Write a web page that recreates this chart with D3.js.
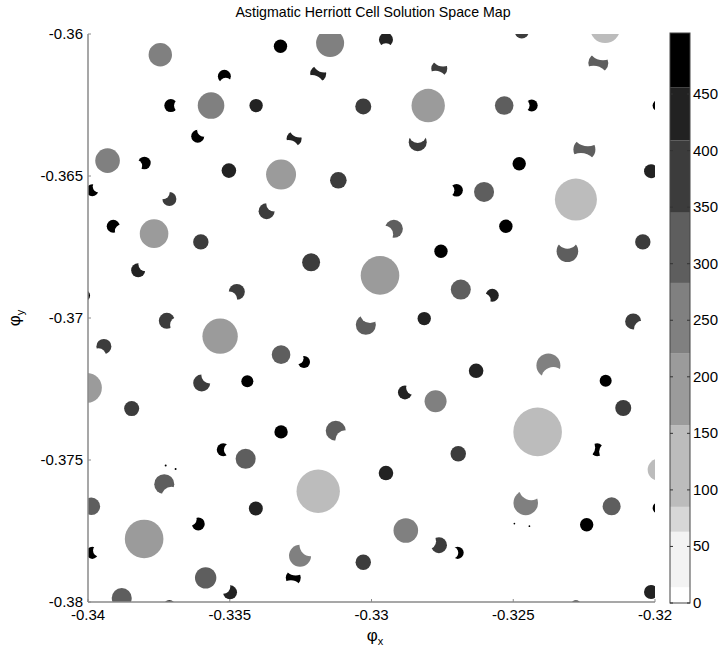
<!DOCTYPE html>
<html><head><meta charset="utf-8">
<script src="https://cdn.jsdelivr.net/npm/d3@7"></script>
<style>
html,body{margin:0;padding:0;background:#fff;}
text{font-family:"Liberation Sans",Arial,sans-serif;fill:#000;}
</style></head>
<body><svg id="c" width="718" height="651"></svg>
<script>
const titleText = "Astigmatic Herriott Cell Solution Space Map";
const xTicks = [-0.34, -0.335, -0.33, -0.325, -0.32];
const yTicks = [-0.36, -0.365, -0.37, -0.375, -0.38];
const cbarTicks = [0, 50, 100, 150, 200, 250, 300, 350, 400, 450];
const cbarLevels = [0, 14, 63, 85, 157, 221, 283, 345, 409, 456, 504];
const cbarGrays = ["#ffffff","#f3f3f3","#d7d7d7","#bcbcbc","#9b9b9b","#808080","#5e5e5e","#3c3c3c","#222222","#000000"];

// blob centres (phi_x, phi_y), radius in phi units, value
const blobX = [-0.33745,-0.33321,-0.33519,-0.33708,-0.33566,-0.33407,-0.33613,-0.33931,-0.33801,-0.33503,
 -0.33319,-0.33985,-0.33713,-0.33370,-0.33146,-0.32949,-0.33188,-0.32761,-0.33029,-0.32800,
 -0.33273,-0.32837,-0.33117,-0.32700,-0.32470,-0.32176,-0.32200,-0.32532,-0.32435,-0.31989,
 -0.32249,-0.32479,-0.32014,-0.32603,-0.32279,-0.33911,-0.33767,-0.33602,-0.33823,-0.34014,
 -0.33475,-0.33722,-0.33534,-0.33944,-0.34004,-0.33599,-0.33438,-0.33846,-0.32921,-0.32755,
 -0.33213,-0.32970,-0.32685,-0.33020,-0.32814,-0.33319,-0.33238,-0.32631,-0.32882,-0.32774,
 -0.32526,-0.32043,-0.32309,-0.32574,-0.32077,-0.32376,-0.32174,-0.32112,-0.33319,-0.33523,
 -0.33444,-0.33731,-0.33988,-0.33408,-0.33611,-0.33802,-0.33985,-0.33585,-0.33499,-0.33881,
 -0.33713,-0.33126,-0.32694,-0.32949,-0.33188,-0.32879,-0.32762,-0.32696,-0.33252,-0.33029,
 -0.33276,-0.32414,-0.32204,-0.31987,-0.32456,-0.32153,-0.31989,-0.32241,-0.32014,-0.32279,
 -0.33726,-0.33691,-0.32496,-0.32443];
const blobY = [-0.36073,-0.36043,-0.36149,-0.36252,-0.36252,-0.36252,-0.36360,-0.36446,-0.36454,-0.36481,
 -0.36495,-0.36550,-0.36581,-0.36624,-0.36032,-0.36020,-0.36140,-0.36122,-0.36255,-0.36252,
 -0.36369,-0.36381,-0.36515,-0.36550,-0.35991,-0.35979,-0.36102,-0.36252,-0.36252,-0.36252,
 -0.36407,-0.36457,-0.36483,-0.36556,-0.36583,-0.36677,-0.36703,-0.36732,-0.36832,-0.36921,
 -0.36908,-0.37010,-0.37064,-0.37100,-0.37246,-0.37229,-0.37223,-0.37319,-0.36686,-0.36765,
 -0.36804,-0.36850,-0.36900,-0.37024,-0.37002,-0.37129,-0.37155,-0.37186,-0.37262,-0.37293,
 -0.36677,-0.36732,-0.36765,-0.36920,-0.37012,-0.37167,-0.37221,-0.37317,-0.37401,-0.37464,
 -0.37496,-0.37585,-0.37663,-0.37671,-0.37725,-0.37778,-0.37827,-0.37915,-0.37966,-0.37986,
 -0.38014,-0.37397,-0.37478,-0.37546,-0.37610,-0.37748,-0.37800,-0.37827,-0.37837,-0.37860,
 -0.37915,-0.37401,-0.37464,-0.37534,-0.37651,-0.37663,-0.37669,-0.37728,-0.37965,-0.38011,
 -0.37519,-0.37532,-0.37724,-0.37733];
const blobR = [0.000413,0.000236,0.000229,0.000229,0.000469,0.000236,0.000229,0.000434,0.000222,0.000257,
 0.000529,0.000212,0.000247,0.000282,0.000494,0.000247,0.000282,0.000282,0.000282,0.000589,
 0.000265,0.000317,0.000293,0.000222,0.000247,0.000529,0.000353,0.000328,0.000212,0.000194,
 0.000388,0.000236,0.000247,0.000353,0.000741,0.000229,0.000504,0.000272,0.000247,0.000212,
 0.000282,0.000282,0.000624,0.000265,0.000529,0.000300,0.000212,0.000265,0.000317,0.000236,
 0.000317,0.000681,0.000353,0.000353,0.000236,0.000328,0.000212,0.000257,0.000247,0.000388,
 0.000236,0.000272,0.000381,0.000229,0.000282,0.000423,0.000212,0.000282,0.000236,0.000229,
 0.000353,0.000353,0.000307,0.000247,0.000229,0.000681,0.000212,0.000377,0.000247,0.000353,
 0.000212,0.000353,0.000272,0.000257,0.000765,0.000434,0.000282,0.000212,0.000388,0.000272,
 0.000265,0.000857,0.000229,0.000388,0.000434,0.000317,0.000194,0.000236,0.000247,0.000176,
 0.000035,0.000035,0.000030,0.000030];
const blobValue = [250,480,480,480,250,430,480,250,480,430,
 190,480,380,380,250,430,430,380,380,190,
 430,380,380,480,380,120,315,315,480,480,
 315,480,430,315,120,480,190,380,430,480,
 380,380,190,380,190,380,480,380,315,480,
 380,190,315,315,430,315,480,430,430,250,
 480,380,315,430,380,250,480,380,480,480,
 315,315,315,430,480,190,480,315,430,315,
 380,315,380,430,120,250,380,480,250,380,
 480,120,480,120,250,315,480,480,430,380,
 480,480,480,480];
// notch direction (deg, screen), notch distance factor, double notch (bow-tie) flag
const biteDir = [null,null,80,0,null,null,-45,null,160,null,
 null,-30,-135,-45,null,90,115,105,null,null,
 115,-90,null,180,null,null,105,null,180,null,
 100,null,null,null,null,30,null,null,-40,null,
 135,20,null,120,null,-45,null,null,150,null,
 null,null,null,-70,null,null,-150,null,-30,null,
 null,null,-90,150,40,70,null,null,null,0,
 null,60,null,null,-150,null,-20,null,-140,null,
 null,45,null,null,null,null,-160,180,-45,null,
 100,null,10,null,-70,null,null,null,null,null,
 null,null,null,null];
const biteK = [0,0,1.25,1.5,0,0,1.3,0,1.45,0,
 0,1.25,1.35,1.35,0,1.5,1.83,1.83,0,0,
 1.83,0.92,0,1.35,0,0,1.83,0,1.35,0,
 1.83,0,0,0,0,1.45,0,0,1.35,0,
 1.35,1.5,0,1.45,0,1.35,0,0,1.25,0,
 0,0,0,1.25,0,0,1.25,0,1.35,0,
 0,0,1.24,1.45,1.45,1.2,0,0,0,1.1,
 0,1.45,0,0,1.45,0,1.2,0,1.25,0,
 0,1.35,0,0,0,0,1.45,0.9,1.35,0,
 1.83,0,1.83,0,1.3,0,0,0,0,0,
 0,0,0,0];
const biteTwin = [17,18,21,27,31,91,93].map(n => n - 1);

const svg = d3.select("#c");
const L = 88, R = 655, T = 34, B = 602;
const x = d3.scaleLinear().domain([-0.34, -0.32]).range([L, R]);
const y = d3.scaleLinear().domain([-0.38, -0.36]).range([B, T]);
const rScale = d3.scaleLinear().domain([0, 0.02]).range([0, R - L]);
const color = d3.scaleThreshold().domain(cbarLevels.slice(1, -1)).range(cbarGrays);

const defs = svg.append("defs");
defs.append("clipPath").attr("id", "plotclip").append("rect")
  .attr("x", L).attr("y", T).attr("width", R - L).attr("height", B - T);

const plot = svg.append("g").attr("clip-path", "url(#plotclip)");
blobX.forEach((bx, i) => {
  const cx = x(bx), cy = y(blobY[i]), r = rScale(blobR[i]);
  const c = plot.append("circle").attr("cx", cx).attr("cy", cy).attr("r", r)
    .attr("fill", color(blobValue[i]));
  if (biteDir[i] !== null) {
    const twin = biteTwin.includes(i);
    const rb = twin ? 1.5 * r : r;
    const dirs = twin ? [biteDir[i], biteDir[i] + 180] : [biteDir[i]];
    const m = defs.append("mask").attr("id", "m" + i)
      .attr("maskUnits", "userSpaceOnUse")
      .attr("x", cx - 2 * r).attr("y", cy - 2 * r).attr("width", 4 * r).attr("height", 4 * r);
    m.append("rect").attr("x", cx - 2 * r).attr("y", cy - 2 * r)
      .attr("width", 4 * r).attr("height", 4 * r).attr("fill", "#fff");
    dirs.forEach(d => {
      const a = d * Math.PI / 180;
      m.append("circle").attr("cx", cx + biteK[i] * r * Math.cos(a))
        .attr("cy", cy + biteK[i] * r * Math.sin(a)).attr("r", rb).attr("fill", "#000");
    });
    c.attr("mask", "url(#m" + i + ")");
  }
});

// axes
const axisColor = "#8a8a8a";
svg.append("line").attr("x1", L).attr("x2", L).attr("y1", T).attr("y2", B)
  .attr("stroke", axisColor).attr("stroke-width", 1.5);
svg.append("line").attr("x1", L).attr("x2", R).attr("y1", B).attr("y2", B)
  .attr("stroke", axisColor).attr("stroke-width", 1.5);
xTicks.forEach(t => {
  svg.append("line").attr("x1", x(t)).attr("x2", x(t)).attr("y1", B).attr("y2", B - 3)
    .attr("stroke", axisColor);
  svg.append("text").attr("x", x(t)).attr("y", 620).attr("text-anchor", "middle")
    .attr("font-size", 15).text(t.toString());
});
yTicks.forEach(t => {
  svg.append("line").attr("x1", L).attr("x2", L + 3).attr("y1", y(t)).attr("y2", y(t))
    .attr("stroke", axisColor);
  svg.append("text").attr("x", 83).attr("y", y(t) + 5).attr("text-anchor", "end")
    .attr("font-size", 15).text(t.toString());
});

// title and labels
svg.append("text").attr("x", 373).attr("y", 17).attr("text-anchor", "middle")
  .attr("font-size", 14.2).text(titleText);
const xl = svg.append("text").attr("x", 375).attr("y", 641).attr("text-anchor", "middle").attr("font-size", 17);
xl.append("tspan").text("\u03c6");
xl.append("tspan").attr("font-size", 11).attr("dy", 4).text("x");
const yl = svg.append("text").attr("transform", "translate(20,318) rotate(-90)")
  .attr("text-anchor", "middle").attr("font-size", 17);
yl.append("tspan").text("\u03c6");
yl.append("tspan").attr("font-size", 11).attr("dy", 4).text("y");

// colorbar
const CL = 670, CR = 690;
const cy = d3.scaleLinear().domain([0, 504]).range([603, 33]);
const cb = svg.append("g");
cbarGrays.forEach((g, i) => {
  cb.append("rect").attr("x", CL).attr("width", CR - CL)
    .attr("y", cy(cbarLevels[i + 1])).attr("height", cy(cbarLevels[i]) - cy(cbarLevels[i + 1]))
    .attr("fill", g);
});
cb.append("rect").attr("x", CL).attr("y", cy(504)).attr("width", CR - CL)
  .attr("height", cy(0) - cy(504)).attr("fill", "none").attr("stroke", "#444").attr("stroke-width", 1);
cbarTicks.forEach(t => {
  cb.append("line").attr("x1", CL).attr("x2", CL + 3).attr("y1", cy(t)).attr("y2", cy(t)).attr("stroke", "#333");
  cb.append("line").attr("x1", CR - 3).attr("x2", CR).attr("y1", cy(t)).attr("y2", cy(t)).attr("stroke", "#333");
  cb.append("text").attr("x", 693).attr("y", cy(t) + 5).attr("font-size", 15).text(t);
});
</script></body></html>
